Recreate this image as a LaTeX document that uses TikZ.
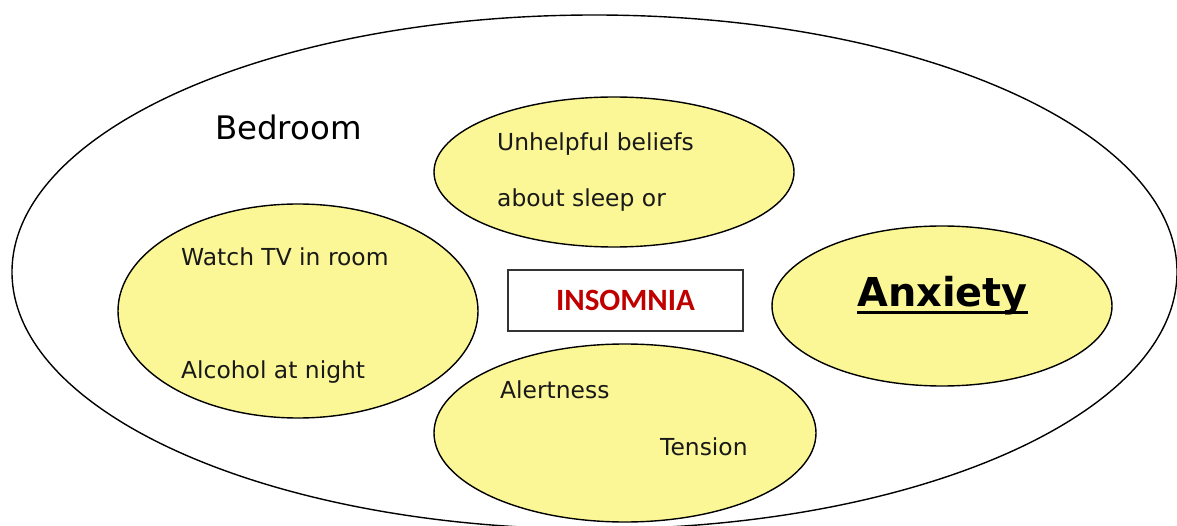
\documentclass[tikz,border=0pt]{standalone}
\usepackage{fontspec}
\setmainfont{DejaVu Sans}
\newfontfamily\boxfont{Carlito}
\usetikzlibrary{shapes.geometric}
\definecolor{pale}{RGB}{251,247,150}
\definecolor{deepred}{RGB}{192,0,0}
\tikzset{
  blob/.style={ellipse, draw=black, line width=1.4pt, fill=pale, inner sep=0pt},
  lbl/.style={anchor=base west, inner sep=0pt, font=\fontsize{23.4}{27}\selectfont, text=black!90},
}
\begin{document}
\begin{tikzpicture}[x=1pt,y=-1pt]
\useasboundingbox (0,0) rectangle (1177,526);
% outer region
\node[ellipse, draw=black, line width=1.4pt, fill=white, inner sep=0pt,
      minimum width=1165pt, minimum height=514pt] (room) at (594.5,272) {};
\node[anchor=base west, inner sep=0pt, font=\fontsize{32.4}{36}\selectfont] (bedroom) at (215,140) {Bedroom};

% four groups of factors
\node[blob, minimum width=360pt, minimum height=214pt] (habits) at (298,311) {};
\node[blob, minimum width=360pt, minimum height=150pt] (beliefs) at (614,172) {};
\node[blob, minimum width=340pt, minimum height=160pt] (anxiety) at (942,306) {};
\node[blob, minimum width=382pt, minimum height=178pt] (arousal) at (625,433) {};

\node[lbl] (tv) at (181,266) {Watch TV in room};
\node[lbl] (alcohol) at (181,378) {Alcohol at night};
\node[lbl] (unhelpful) at (497,151) {Unhelpful beliefs};
\node[lbl] (about) at (497,207) {about sleep or};
\node[lbl] (alert) at (500,398) {Alertness};
\node[lbl] (tension) at (660,455) {Tension};

\node[anchor=base west, inner sep=0pt, font=\fontsize{39.8}{44}\selectfont\bfseries] (anx) at (857,307) {Anxiety};
\draw[line width=2.8pt] ([yshift=-5.5pt]anx.base west) -- ([yshift=-5.5pt]anx.base east);

% central problem
\node[draw=black!80, line width=1.2pt, fill=white, minimum width=235pt, minimum height=61pt,
      inner sep=0pt, font=\boxfont\fontsize{31}{35}\selectfont\bfseries, text=deepred] (insomnia) at (625.5,300.5) {INSOMNIA};
\end{tikzpicture}
\end{document}
